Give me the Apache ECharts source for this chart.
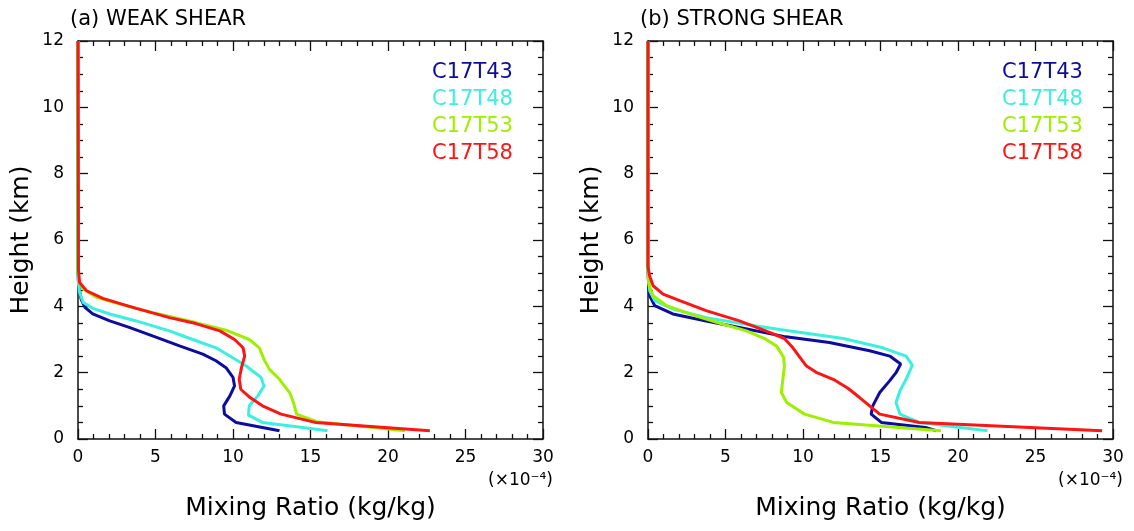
<!DOCTYPE html>
<html>
<head>
<meta charset="utf-8">
<script src="https://cdn.jsdelivr.net/npm/echarts@6/dist/echarts.min.js"></script>
<style>
html,body{margin:0;padding:0;background:#fff;}
#chart{width:1134px;height:531px;}
</style>
</head>
<body>
<div id="chart"></div>
<script>
// Values: [mixing ratio (x1e-4 kg/kg), height (km)]
const seriesNames = ['C17T43', 'C17T48', 'C17T53', 'C17T58'];
const seriesColors = ['#0c0ca0', '#3cf0e0', '#9cf000', '#ff1414'];
const panelTitles = ['(a) WEAK SHEAR', '(b) STRONG SHEAR'];
const xTicks = [0, 5, 10, 15, 20, 25, 30];
const yTicks = [0, 2, 4, 6, 8, 10, 12];

const weakT43 = [[13.0,0.25],[10.2,0.5],[9.45,0.75],[9.4,1.0],[9.8,1.3],[10.1,1.6],[10.0,1.86],[9.55,2.15],[8.9,2.36],[8.05,2.56],[6.55,2.81],[4.85,3.1],[3.35,3.36],[2.05,3.56],[0.95,3.77],[0.45,3.97],[0.2,4.22],[0.05,4.6],[0,5.0],[0,12]];
const weakT48 = [[16.1,0.25],[14.5,0.35],[11.9,0.5],[11.0,0.72],[11.05,1.0],[11.6,1.3],[12.0,1.6],[11.8,1.86],[10.85,2.2],[9.8,2.5],[8.9,2.75],[7.4,3.0],[5.9,3.26],[3.75,3.56],[2.05,3.77],[0.95,3.94],[0.33,4.12],[0.1,4.42],[0,4.8],[0,12]];
const weakT53 = [[21.1,0.25],[15.4,0.52],[14.1,0.75],[13.9,1.1],[13.65,1.4],[13.0,1.8],[12.35,2.1],[12.0,2.4],[11.7,2.75],[11.05,3.0],[9.55,3.28],[7.6,3.51],[4.85,3.81],[2.7,4.07],[1.2,4.27],[0.33,4.52],[0.05,4.77],[0,5.0],[0,12]];
const weakT58 = [[22.7,0.25],[15.3,0.5],[13.1,0.75],[11.9,1.0],[11.1,1.25],[10.5,1.5],[10.4,1.8],[10.55,2.16],[10.75,2.5],[10.65,2.75],[10.1,3.0],[9.15,3.26],[7.6,3.48],[5.9,3.66],[3.75,3.94],[1.6,4.24],[0.55,4.47],[0.1,4.72],[0.03,5.1],[0,12]];

const strongT43 = [[18.6,0.25],[17.9,0.35],[15.05,0.5],[14.4,0.75],[14.5,1.0],[14.95,1.4],[15.6,1.76],[16.0,2.0],[16.3,2.26],[15.6,2.5],[14.3,2.66],[11.7,2.91],[8.9,3.08],[5.9,3.36],[3.75,3.56],[1.6,3.77],[0.43,4.02],[0.11,4.32],[0.05,4.62],[0,5.0],[0,12]];
const strongT48 = [[21.9,0.25],[17.5,0.5],[16.25,0.75],[16.0,1.1],[16.25,1.45],[16.65,1.8],[17.05,2.23],[16.65,2.5],[15.15,2.75],[12.6,3.03],[8.5,3.3],[7.0,3.41],[3.75,3.66],[1.6,3.92],[0.43,4.17],[0.11,4.47],[0.04,4.82],[0,12]];
const strongT53 = [[18.9,0.25],[11.95,0.5],[10.1,0.75],[8.95,1.1],[8.6,1.4],[8.7,1.8],[8.8,2.2],[8.75,2.46],[8.3,2.8],[7.6,3.01],[6.35,3.26],[4.85,3.46],[2.7,3.77],[1.2,4.02],[0.33,4.32],[0.05,4.67],[0,5.0],[0,12]];
const strongT58 = [[29.3,0.25],[17.5,0.5],[14.95,0.75],[14.3,1.0],[13.65,1.25],[12.9,1.53],[11.95,1.8],[10.85,2.01],[10.2,2.21],[9.8,2.46],[9.35,2.75],[8.8,3.03],[7.6,3.26],[5.9,3.56],[3.75,3.87],[2.05,4.17],[0.97,4.37],[0.33,4.62],[0.1,4.92],[0,5.2],[0,12]];

const panels = [
  [weakT43, weakT48, weakT53, weakT58],
  [strongT43, strongT48, strongT53, strongT58]
];

const FONT = 'DejaVu Sans';
const grids = [
  {left: 78, top: 41, width: 465, height: 398},
  {left: 648, top: 41, width: 465, height: 398}
];

const axisLineStyle = {color: '#111', width: 1.5};
function xAx(gi, top) {
  return {
    type: 'value', gridIndex: gi, position: top ? 'top' : 'bottom',
    min: xTicks[0], max: xTicks[xTicks.length-1], interval: 5,
    name: top ? '' : 'Mixing Ratio (kg/kg)', nameLocation: 'middle', nameGap: 57,
    nameTextStyle: {fontFamily: FONT, fontSize: 25, color: '#000'},
    axisLine: {show: true, onZero: false, lineStyle: axisLineStyle},
    axisTick: {show: true, inside: true, length: 10, lineStyle: {color: '#111', width: 1.3}},
    minorTick: {show: true, splitNumber: 5, length: 5, lineStyle: {color: '#111', width: 1.3}},
    axisLabel: {show: !top, margin: 10, fontFamily: FONT, fontSize: 17, color: '#000'},
    splitLine: {show: false}, minorSplitLine: {show: false}
  };
}
function yAx(gi, right) {
  return {
    type: 'value', gridIndex: gi, position: right ? 'right' : 'left',
    min: yTicks[0], max: yTicks[yTicks.length-1], interval: 2,
    name: right ? '' : 'Height (km)', nameLocation: 'middle', nameGap: 44,
    nameTextStyle: {fontFamily: FONT, fontSize: 25, color: '#000'},
    axisLine: {show: true, onZero: false, lineStyle: axisLineStyle},
    axisTick: {show: true, inside: true, length: 10, lineStyle: {color: '#111', width: 1.3}},
    minorTick: {show: true, splitNumber: 4, length: 5, lineStyle: {color: '#111', width: 1.3}},
    axisLabel: {show: !right, margin: 14, fontFamily: FONT, fontSize: 17, color: '#000'},
    splitLine: {show: false}, minorSplitLine: {show: false}
  };
}

const xAxes = [xAx(0,false), xAx(0,true), xAx(1,false), xAx(1,true)];
const yAxes = [yAx(0,false), yAx(0,true), yAx(1,false), yAx(1,true)];

const series = [];
panels.forEach((p, pi) => {
  p.forEach((d, si) => {
    series.push({
      type: 'line', name: seriesNames[si], xAxisIndex: pi*2, yAxisIndex: pi*2,
      data: d, showSymbol: false, symbol: 'none', smooth: false,
      lineStyle: {color: seriesColors[si], width: 3}, itemStyle: {color: seriesColors[si]},
      z: 2 + si, animation: false
    });
  });
});

const legendData = seriesNames.map((n, i) => ({name: n, textStyle: {color: seriesColors[i]}}));
function legend(left) {
  return {
    orient: 'vertical', left: left, top: 57, icon: 'none', itemWidth: 0, itemHeight: 0,
    itemGap: 4.7, selectedMode: false, data: legendData,
    textStyle: {fontFamily: FONT, fontSize: 21, lineHeight: 22, padding: 0}
  };
}

const option = {
  backgroundColor: '#fff',
  animation: false,
  title: panelTitles.map((t, i) => ({
    text: t, left: i === 0 ? 70 : 640, top: 9, padding: 0,
    textStyle: {fontFamily: FONT, fontSize: 21, fontWeight: 'normal', color: '#000'}
  })),
  legend: [legend(422), legend(992)],
  grid: grids,
  xAxis: xAxes,
  yAxis: yAxes,
  series: series,
  graphic: [553, 1123].map(x => ({
    type: 'text', x: x, y: 481,
    style: {text: '(\u00d710\u207b\u2074)', fontFamily: FONT, fontSize: 17, fill: '#000', align: 'right', verticalAlign: 'middle'}
  }))
};

const chart = echarts.init(document.getElementById('chart'), null, {renderer: 'canvas'});
chart.setOption(option);
</script>
</body>
</html>
